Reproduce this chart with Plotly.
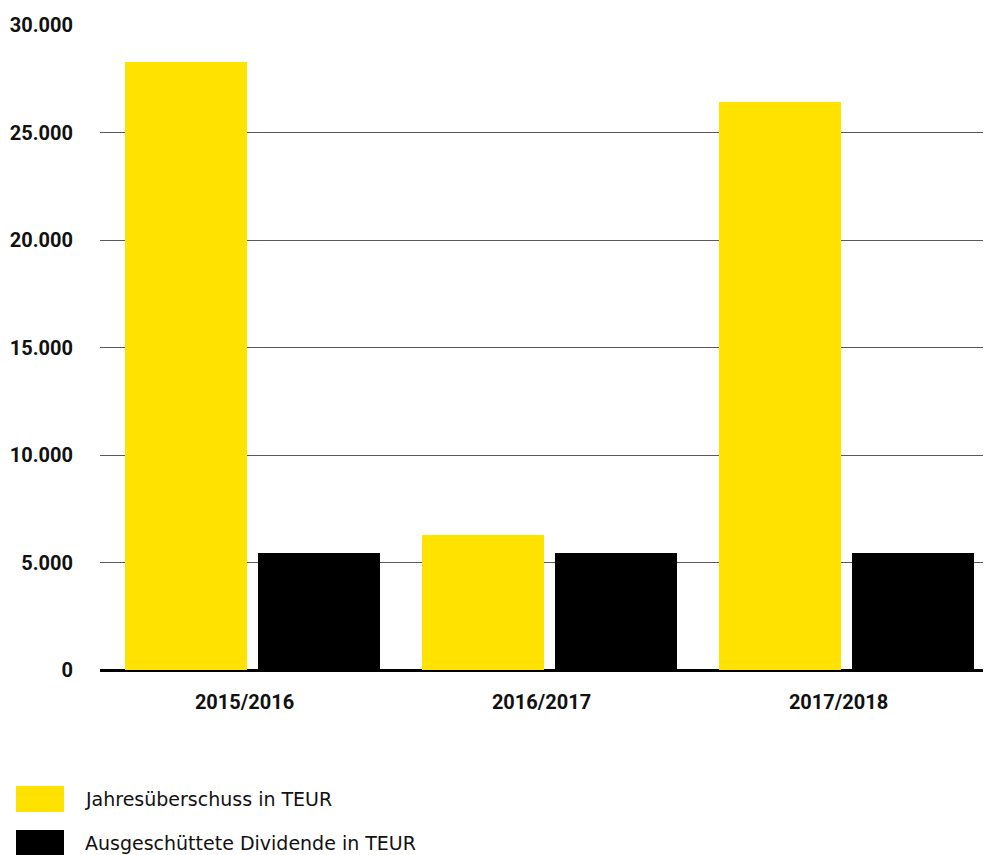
import plotly.graph_objects as go

categories = ["2015/2016", "2016/2017", "2017/2018"]
jahresueberschuss = [28280, 6280, 26420]
dividende = [5440, 5440, 5440]
series_names = ["Jahresüberschuss in TEUR", "Ausgeschüttete Dividende in TEUR"]
series_colors = ["#FFE200", "#000000"]
y_tick_values = [0, 5000, 10000, 15000, 20000, 25000, 30000]
y_tick_labels = ["0", "5.000", "10.000", "15.000", "20.000", "25.000", "30.000"]

# page body has an 8px margin; size the figure so it fits the 991x855 window
OFF = 8
W, H = 991 - OFF, 855 - OFF
ML, MR, MT, MB = 100 - OFF, 0, 25 - OFF, 185
PW, PH = W - ML - MR, H - MT - MB
CAT = PW / 3  # pixels per category

def px_x(x):  # x in window pixels -> paper
    return (x - OFF - ML) / PW

def px_y(y):  # y in window pixels -> paper
    return (H - MB - (y - OFF)) / PH

FONT = "Roboto"
label_center0 = 244.5  # window x of first category label centre
r0 = -(label_center0 - 100) / CAT
bar_w = 122 / CAT
off_yellow = (125 - label_center0) / CAT
off_black = (258 - label_center0) / CAT

fig = go.Figure()
fig.add_trace(go.Bar(x=categories, y=jahresueberschuss, name=series_names[0],
                     width=bar_w, offset=off_yellow,
                     marker=dict(color=series_colors[0], line=dict(width=0))))
fig.add_trace(go.Bar(x=categories, y=dividende, name=series_names[1],
                     width=bar_w, offset=off_black,
                     marker=dict(color=series_colors[1], line=dict(width=0))))

fig.update_layout(
    width=W, height=H,
    margin=dict(l=ML, r=MR, t=MT, b=MB),
    paper_bgcolor="white", plot_bgcolor="white",
    barmode="group",
    showlegend=False,
    font=dict(family=FONT, color="#111111"),
    xaxis=dict(range=[r0, r0 + 3],
               showgrid=False, showline=False, zeroline=False, ticks="",
               tickfont=dict(family=FONT, size=20, color="#111111", weight="bold"),
               ticklabelstandoff=18, fixedrange=True),
    yaxis=dict(range=[0, 30000], tickvals=y_tick_values, ticktext=y_tick_labels,
               showgrid=True, gridcolor="#5a5a5a", gridwidth=1,
               zeroline=True, zerolinecolor="#000000", zerolinewidth=2.5,
               showline=False, ticks="",
               tickfont=dict(family=FONT, size=20, color="#111111", weight="bold"),
               ticklabelstandoff=26, fixedrange=True),
)

# legend drawn manually with large swatches
legend_rows = [(786, 812), (830, 856)]
for (top, bot), name, color in zip(legend_rows, series_names, series_colors):
    fig.add_shape(type="rect", xref="paper", yref="paper",
                  x0=px_x(16), x1=px_x(64), y0=px_y(bot), y1=px_y(top),
                  fillcolor=color, line=dict(width=0), layer="above")
    fig.add_annotation(xref="paper", yref="paper", x=px_x(83), y=px_y((top + bot) / 2),
                       text=name, showarrow=False, xanchor="left", yanchor="middle",
                       font=dict(family="DejaVu Sans", size=19, color="#111111"))

fig.write_html("out.html")
